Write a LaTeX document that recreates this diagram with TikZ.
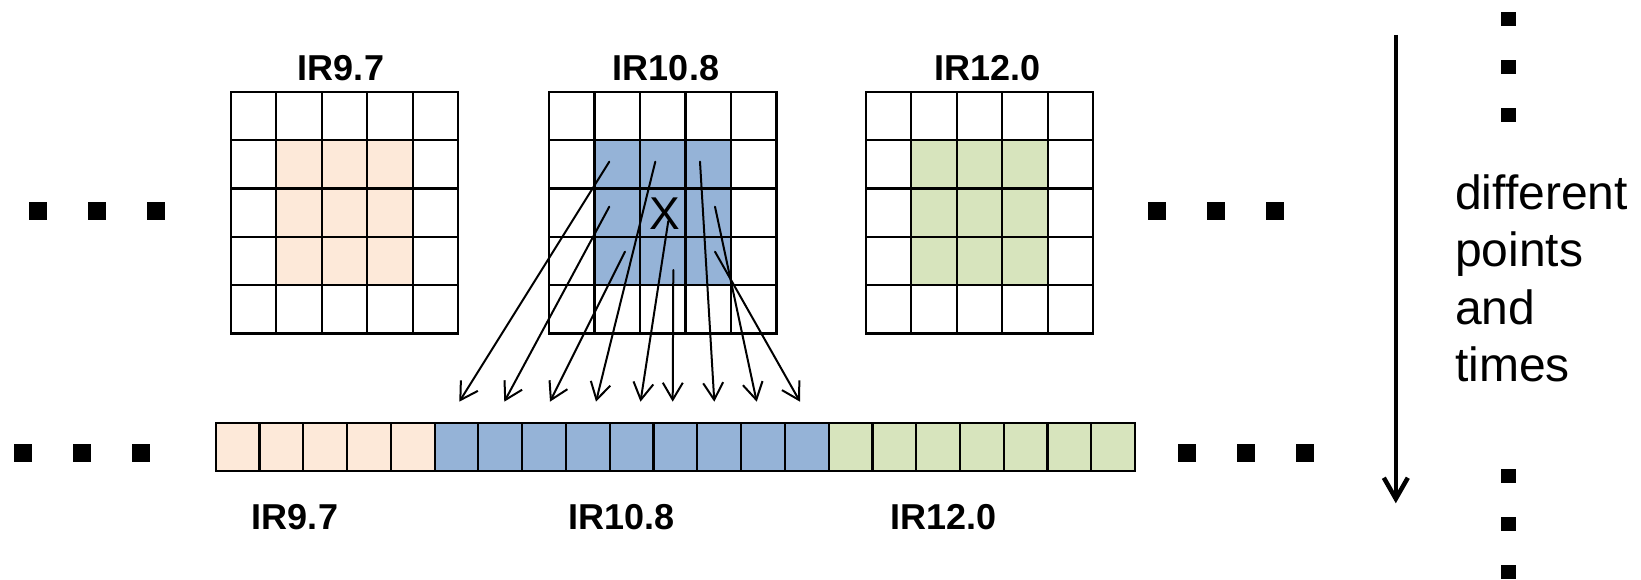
\documentclass[tikz,border=0pt]{standalone}
\usepackage{fontspec}
\setmainfont{Liberation Sans}
\usetikzlibrary{arrows.meta}
\definecolor{peachc}{HTML}{FDE9D9}
\definecolor{bluec}{HTML}{95B3D7}
\definecolor{greenc}{HTML}{D7E4BD}
\begin{document}
\begin{tikzpicture}[x=1pt,y=-1pt,
  cell/.style={draw=black,line width=2.2pt,minimum width=45.5pt,minimum height=48.3pt,inner sep=0pt,outer sep=0pt},
  scell/.style={draw=black,line width=2.2pt,minimum width=43.78pt,minimum height=48pt,inner sep=0pt,outer sep=0pt},
  title/.style={font=\fontsize{36}{40}\selectfont\bfseries,anchor=base,inner sep=0pt},
  dot/.style={fill=black,minimum size=18pt,inner sep=0pt},
  vdot/.style={fill=black,minimum width=15pt,minimum height=14pt,inner sep=0pt},
  maparrow/.style={line width=2pt,line cap=round,-{Straight Barb[length=17pt,width=20pt]}},
]
\path[use as bounding box] (0,0) rectangle (1641,580);

% grids
\foreach \g/\lx/\col in {1/230.7/peachc,2/549/bluec,3/865.7/greenc}{
  \foreach \r in {1,...,5}{
    \foreach \c in {1,...,5}{
      \pgfmathtruncatemacro\inn{(\r>1)&&(\r<5)&&(\c>1)&&(\c<5)}
      \ifnum\inn=1 \def\fc{\col}\else\def\fc{white}\fi
      \node[cell,fill=\fc] (g\g-\r-\c) at ({\lx+45.5*(\c-0.5)},{92+48.3*(\r-0.5)}) {};
    }
  }
}

% titles
\node[title] (t1) at (341,80.7) {IR9.7};
\node[title] (t2) at (666,80.7) {IR10.8};
\node[title] (t3) at (987.5,80.7) {IR12.0};

% X
\node[font=\fontsize{46}{50}\selectfont,inner sep=0pt] (xlab) at (665,213.3) {X};

% strip
\foreach \i in {0,...,20}{
  \ifnum\i<5 \def\fc{peachc}\else\ifnum\i<14 \def\fc{bluec}\else\def\fc{greenc}\fi\fi
  \node[scell,fill=\fc] (s\i) at ({215.7+43.78*(\i+0.5)},446.7) {};
}

% bottom labels
\node[title] (b1) at (295,529.3) {IR9.7};
\node[title] (b2) at (621.7,529.3) {IR10.8};
\node[title] (b3) at (943.3,529.3) {IR12.0};

% mapping arrows
\coordinate (pA) at (609.3,161.7); \coordinate (qA) at (459.3,401.7);
\coordinate (pD) at (609.3,206.7); \coordinate (qD) at (504.3,401.7);
\coordinate (pF) at (625,251.7);   \coordinate (qF) at (550,401.7);
\coordinate (pB) at (655.3,161.7); \coordinate (qB) at (596,401.7);
\coordinate (pX) at (668.3,221);   \coordinate (qX) at (640.5,401.7);
\coordinate (pG) at (673.3,270);   \coordinate (qG) at (672.7,401.7);
\coordinate (pC) at (700,161.7);   \coordinate (qC) at (714.3,401.7);
\coordinate (pE) at (715,206.7);   \coordinate (qE) at (756.7,401.7);
\coordinate (pH) at (715,251.7);   \coordinate (qH) at (800,401.7);
\foreach \k in {A,D,F,B,X,G,C,E,H}{
  \draw[maparrow] (p\k) -- (q\k);
}

% dots
\node[dot] (dl1) at (38.3,211.3) {};
\node[dot] (dl2) at (97,211.3) {};
\node[dot] (dl3) at (155.7,211.3) {};
\node[dot] (dr1) at (1157.3,211) {};
\node[dot] (dr2) at (1216.3,211) {};
\node[dot] (dr3) at (1275,211) {};
\node[dot] (el1) at (23.3,453.3) {};
\node[dot] (el2) at (82,453.3) {};
\node[dot] (el3) at (140.7,453.3) {};
\node[dot] (er1) at (1187.3,453.3) {};
\node[dot] (er2) at (1246,453.3) {};
\node[dot] (er3) at (1304.7,453.3) {};
\node[vdot] (v1) at (1508.5,19) {};
\node[vdot] (v2) at (1508.5,67.3) {};
\node[vdot] (v3) at (1508.5,115) {};
\node[vdot] (v4) at (1508.5,476) {};
\node[vdot] (v5) at (1508.5,524) {};
\node[vdot] (v6) at (1508.5,571.7) {};

% time arrow
\coordinate (ts) at (1395.8,35);
\coordinate (te) at (1395.8,503.3);
\draw[line width=4.5pt,-{Straight Barb[length=21pt,width=24pt]}] (ts) -- (te);

\node[anchor=north west,inner sep=0pt,align=left,font=\fontsize{48}{57.5}\selectfont] (txt) at (1455,174.5) {different\\points\\and\\times};
\end{tikzpicture}
\end{document}
